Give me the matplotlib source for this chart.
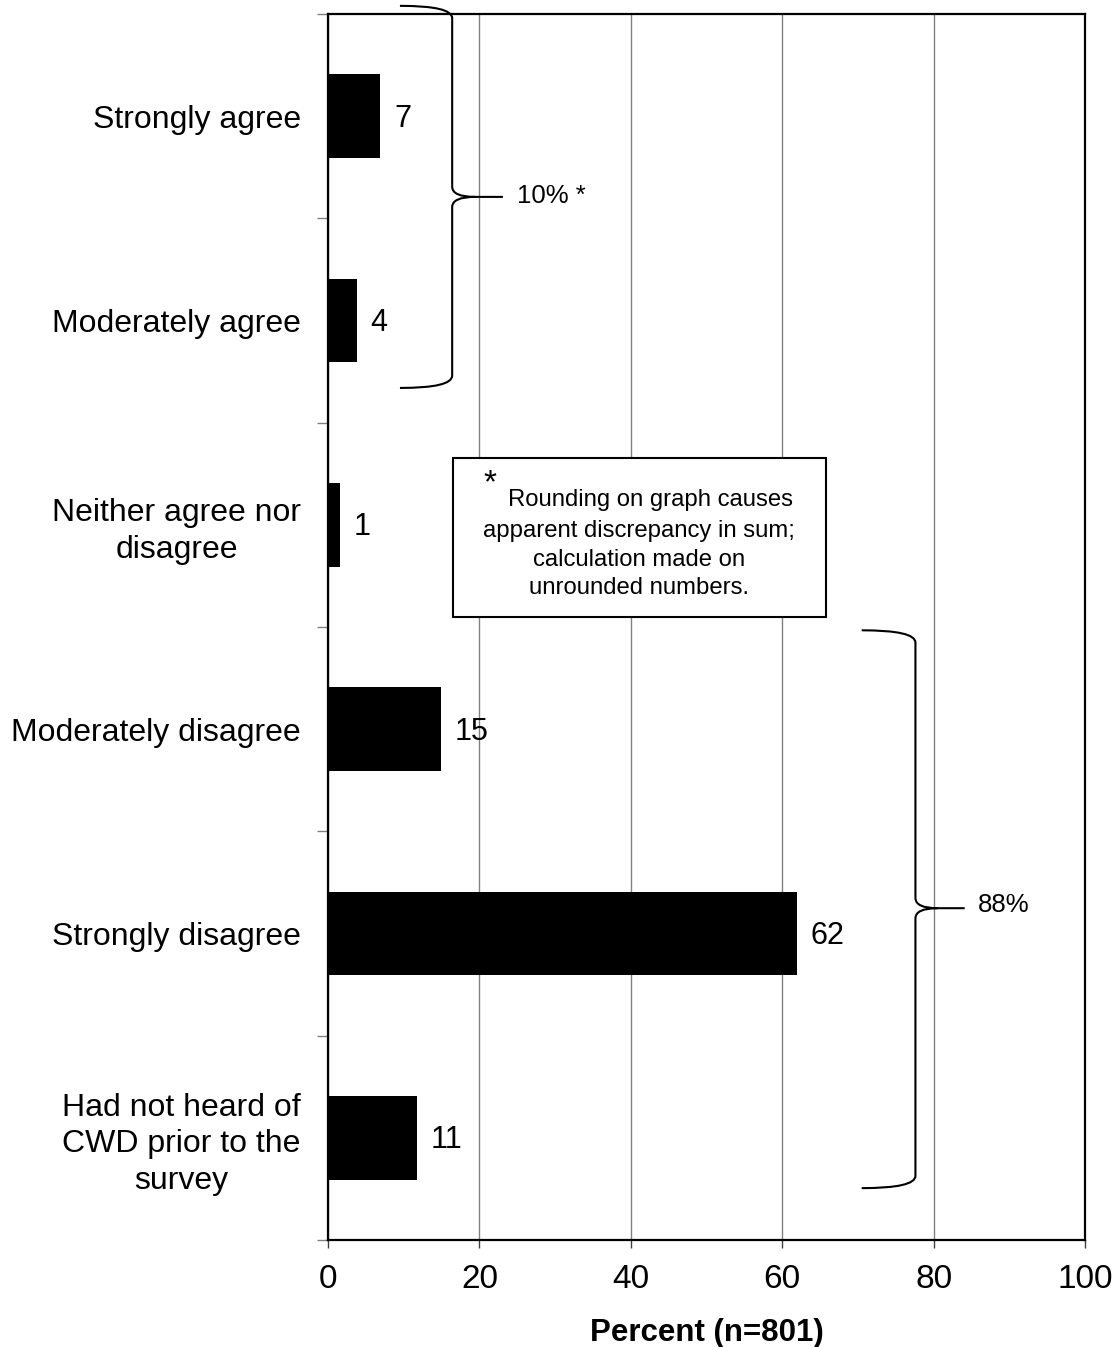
import matplotlib
matplotlib.use("Agg")
import matplotlib.pyplot as plt
from matplotlib.path import Path
from matplotlib.patches import PathPatch, Rectangle

plt.rcParams['font.family'] = ['Liberation Sans', 'DejaVu Sans']

categories = ["Strongly agree", "Moderately agree", "Neither agree nor\ndisagree",
              "Moderately disagree", "Strongly disagree",
              "Had not heard of\nCWD prior to the\nsurvey"]
values = [6.9, 3.8, 1.6, 14.9, 62.0, 11.7]
value_labels = ["7", "4", "1", "15", "62", "11"]
xticks = [0, 20, 40, 60, 80, 100]
xlabel = "Percent (n=801)"
group_labels = ["10% *", "88%"]
note_lines = ["Rounding on graph causes", "apparent discrepancy in sum;",
              "calculation made on", "unrounded numbers."]

fig = plt.figure(figsize=(11.15, 13.47), dpi=100)
ax = fig.add_axes([0.2942, 0.0794, 0.6789, 0.9102])

ypos = list(range(len(categories)))
ax.barh(ypos, values, height=0.41, color="black", zorder=3)
for y, v, lab in zip(ypos, values, value_labels):
    ax.text(v + 1.8, y + 0.012, lab, va="center", ha="left", fontsize=22, zorder=4)

ax.set_xlim(0, 100)
ax.set_ylim(5.5, -0.5)
ax.set_xticks(xticks)
ax.set_xticklabels([str(t) for t in xticks], fontsize=24)
ax.set_yticks(ypos)
ax.set_yticklabels(categories, fontsize=23, multialignment="center", linespacing=1.27)
ax.tick_params(axis="y", which="major", length=0, pad=19.5)
ax.set_yticks([i - 0.5 for i in range(len(categories) + 1)], minor=True)
ax.tick_params(axis="y", which="minor", length=8, color="#808080", width=1)
ax.tick_params(axis="x", which="major", length=6, color="#404040", width=1, pad=11)
ax.set_xlabel(xlabel, fontsize=22.5, fontweight="bold", labelpad=17)
ax.xaxis.grid(True, color="#808080", linewidth=1, zorder=0)
ax.set_axisbelow(True)
for s in ax.spines.values():
    s.set_linewidth(1.6)
    s.set_color("black")
    s.set_zorder(5)


def brace(x0, x1, x2, y0, ym, y1, ry, rm):
    verts = [
        (x0, y0), (x1, y0), (x1, y0 + ry),
        (x1, ym - rm), (x1, ym), (x1 + (x2 - x1) * 0.45, ym),
        (x2, ym),
        (x1 + (x2 - x1) * 0.45, ym),
        (x1, ym), (x1, ym + rm),
        (x1, y1 - ry), (x1, y1), (x0, y1),
    ]
    codes = [Path.MOVETO, Path.CURVE3, Path.CURVE3,
             Path.LINETO, Path.CURVE3, Path.CURVE3,
             Path.LINETO,
             Path.MOVETO,
             Path.CURVE3, Path.CURVE3,
             Path.LINETO, Path.CURVE3, Path.CURVE3]
    p = PathPatch(Path(verts, codes), facecolor="none", edgecolor="black",
                  linewidth=1.5, clip_on=False, zorder=6)
    ax.add_patch(p)


brace(9.5, 16.4, 23.1, -0.54, 0.395, 1.33, 0.06, 0.05)
ax.text(25.0, 0.39, group_labels[0], fontsize=18.5, va="center", ha="left")
brace(70.5, 77.6, 84.1, 2.516, 3.876, 5.246, 0.06, 0.05)
ax.text(85.9, 3.86, group_labels[1], fontsize=18.5, va="center", ha="left")

ax.add_patch(Rectangle((16.5, 1.674), 49.3, 0.778, facecolor="white",
                       edgecolor="black", linewidth=1.5, zorder=6))
ax.text(21.4, 1.80, "*", fontsize=24, ha="center", va="center", zorder=7)
ax.text(42.6, 1.879, note_lines[0], fontsize=17.2, ha="center", va="center", zorder=7)
for yy, line in zip([2.031, 2.173, 2.310], note_lines[1:]):
    ax.text(41.1, yy, line, fontsize=17.2, ha="center", va="center", zorder=7)

fig.savefig("out.png", dpi=100)
